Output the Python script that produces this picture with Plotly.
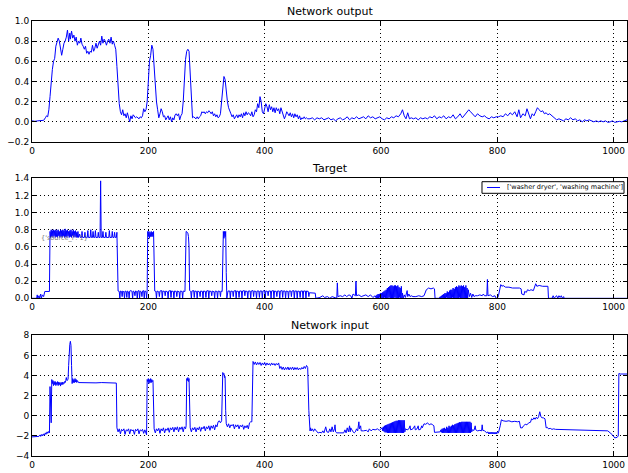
import plotly.graph_objects as go

# ---------------- data ----------------
output_points = [
    (0, 0.01), (5, 0.005), (10, 0.01), (15, 0.01), (20, 0.015), (23, 0.04), (25, 0.06), (27, 0.05),
    (29, 0.12), (31, 0.25), (33, 0.4), (35, 0.52), (37, 0.6), (39, 0.63), (41, 0.75), (43, 0.8),
    (45, 0.83), (47, 0.8), (49, 0.72), (51, 0.66), (53, 0.72), (55, 0.78), (57, 0.8), (59, 0.84),
    (61, 0.91), (62, 0.85), (63, 0.8), (65, 0.88), (66, 0.82), (68, 0.9), (70, 0.83), (72, 0.86),
    (74, 0.8), (76, 0.84), (78, 0.76), (80, 0.8), (82, 0.78), (84, 0.83), (86, 0.77), (88, 0.75),
    (90, 0.72), (92, 0.75), (94, 0.68), (96, 0.7), (98, 0.67), (100, 0.7), (102, 0.69), (104, 0.76),
    (106, 0.7), (108, 0.73), (110, 0.78), (112, 0.73), (114, 0.76), (116, 0.8), (118, 0.76), (120, 0.85),
    (122, 0.78), (124, 0.82), (126, 0.8), (128, 0.76), (130, 0.8), (132, 0.82), (134, 0.78), (136, 0.84),
    (138, 0.77), (140, 0.8), (142, 0.76), (144, 0.72), (146, 0.55), (148, 0.32), (150, 0.18), (152, 0.1),
    (154, 0.07), (156, 0.12), (158, 0.06), (160, 0.08), (162, 0.04), (164, 0.09), (166, 0.05), (168, 0.0),
    (170, 0.06), (172, 0.03), (174, 0.07), (176, 0.05), (178, 0.04), (180, 0.05), (182, 0.04), (184, 0.03),
    (186, 0.05), (188, 0.04), (190, 0.06), (192, 0.13), (194, 0.1), (196, 0.12), (198, 0.2), (200, 0.45),
    (202, 0.6), (204, 0.66), (206, 0.76), (208, 0.72), (210, 0.5), (212, 0.3), (214, 0.2), (216, 0.12),
    (218, 0.04), (220, 0.08), (222, 0.13), (224, 0.1), (226, 0.05), (228, 0.06), (230, 0.02), (232, 0.04),
    (234, 0.06), (236, 0.02), (238, 0.05), (240, 0.0), (242, 0.04), (244, 0.02), (246, 0.07), (248, 0.08),
    (250, 0.06), (252, 0.08), (254, 0.02), (256, 0.06), (258, 0.08), (260, 0.2), (262, 0.45), (264, 0.62),
    (266, 0.7), (268, 0.72), (270, 0.7), (272, 0.45), (274, 0.15), (276, 0.04), (278, 0.05), (280, 0.04),
    (282, 0.03), (284, 0.05), (286, 0.03), (288, 0.05), (290, 0.06), (292, 0.1), (294, 0.09), (296, 0.1),
    (298, 0.08), (300, 0.1), (302, 0.09), (304, 0.11), (306, 0.1), (308, 0.08), (310, 0.1), (312, 0.06),
    (314, 0.08), (316, 0.05), (318, 0.07), (320, 0.04), (322, 0.05), (324, 0.08), (326, 0.2), (328, 0.35),
    (330, 0.45), (332, 0.42), (334, 0.3), (336, 0.2), (338, 0.14), (340, 0.1), (342, 0.08), (344, 0.05),
    (346, 0.07), (348, 0.03), (350, 0.05), (352, 0.07), (354, 0.04), (356, 0.07), (358, 0.05), (360, 0.08),
    (362, 0.04), (364, 0.09), (366, 0.06), (368, 0.1), (370, 0.07), (372, 0.09), (374, 0.08), (376, 0.06),
    (378, 0.1), (380, 0.05), (382, 0.07), (384, 0.12), (386, 0.1), (388, 0.18), (390, 0.14), (392, 0.25),
    (394, 0.2), (396, 0.1), (398, 0.08), (400, 0.12), (402, 0.18), (404, 0.15), (406, 0.1), (408, 0.17),
    (410, 0.12), (412, 0.15), (414, 0.1), (416, 0.14), (418, 0.09), (420, 0.14), (422, 0.11), (424, 0.13),
    (426, 0.08), (428, 0.14), (430, 0.1), (432, 0.06), (434, 0.03), (436, 0.06), (438, 0.1), (440, 0.08),
    (442, 0.06), (444, 0.09), (446, 0.05), (448, 0.08), (450, 0.04), (452, 0.08), (454, 0.05), (456, 0.07),
    (458, 0.03), (460, 0.06), (462, 0.02), (464, 0.04), (466, 0.03), (468, 0.05), (470, 0.03), (472, 0.04),
    (474, 0.03), (478, 0.03), (482, 0.04), (486, 0.02), (490, 0.04), (494, 0.03), (498, 0.04), (502, 0.02),
    (506, 0.03), (510, 0.04), (514, 0.02), (518, 0.03), (522, 0.01), (526, 0.03), (530, 0.04), (534, 0.02),
    (538, 0.03), (542, 0.05), (546, 0.02), (550, 0.04), (554, 0.03), (558, 0.05), (562, 0.03), (566, 0.04),
    (570, 0.05), (574, 0.03), (578, 0.06), (582, 0.04), (586, 0.05), (590, 0.03), (594, 0.04), (598, 0.05),
    (602, 0.03), (606, 0.02), (610, 0.04), (614, 0.03), (618, 0.05), (622, 0.04), (626, 0.06), (630, 0.05),
    (634, 0.08), (637, 0.12), (640, 0.06), (643, 0.03), (646, 0.09), (649, 0.03), (652, 0.04), (656, 0.03),
    (660, 0.04), (664, 0.02), (668, 0.04), (672, 0.03), (676, 0.04), (680, 0.03), (684, 0.05), (688, 0.04),
    (692, 0.06), (696, 0.03), (700, 0.05), (704, 0.04), (708, 0.06), (712, 0.03), (716, 0.05), (720, 0.04),
    (724, 0.07), (728, 0.03), (732, 0.05), (736, 0.08), (740, 0.04), (744, 0.07), (748, 0.1), (751, 0.12),
    (754, 0.1), (758, 0.07), (762, 0.05), (766, 0.08), (770, 0.06), (774, 0.05), (778, 0.06), (782, 0.04),
    (786, 0.03), (790, 0.05), (794, 0.04), (798, 0.05), (802, 0.05), (806, 0.06), (810, 0.05), (814, 0.08),
    (818, 0.06), (822, 0.09), (826, 0.07), (830, 0.1), (834, 0.05), (837, 0.12), (840, 0.04), (844, 0.08),
    (848, 0.06), (851, 0.13), (854, 0.08), (857, 0.03), (860, 0.08), (863, 0.06), (866, 0.1), (869, 0.14),
    (872, 0.12), (875, 0.1), (878, 0.11), (881, 0.08), (884, 0.09), (887, 0.07), (890, 0.08), (894, 0.06),
    (898, 0.04), (902, 0.02), (906, 0.03), (910, 0.02), (914, 0.01), (918, 0.03), (922, 0.02), (926, 0.04),
    (930, 0.02), (934, 0.03), (938, 0.01), (942, 0.02), (946, 0.0), (950, 0.02), (954, 0.01), (958, 0.02),
    (962, 0.01), (966, 0.0), (970, 0.01), (974, 0.0), (978, 0.01), (982, 0.0), (986, 0.01), (990, -0.005),
    (994, 0.0), (998, 0.01), (1002, -0.005), (1006, 0.0), (1010, 0.005), (1014, 0.0), (1018, 0.01), (1023, 0.02),
]

target_points = [
    (0, 0.0), (8, 0.0), (9, 0.04), (10, 0.0), (12, 0.03), (13, 0.0), (15, 0.05), (16, 0.0), (18, 0.04),
    (20, 0.02), (22, 0.08), (30, 0.08), (31, 0.78), (32, 0.71), (33, 0.8), (34, 0.72), (35, 0.79), (36, 0.71),
    (37, 0.8), (38, 0.73), (39, 0.79), (40, 0.71), (41, 0.8), (42, 0.72), (43, 0.79), (44, 0.71), (45, 0.8),
    (46, 0.73), (47, 0.78), (48, 0.71), (49, 0.8), (50, 0.72), (51, 0.79), (52, 0.71), (53, 0.8), (54, 0.73),
    (55, 0.79), (56, 0.71), (57, 0.81), (58, 0.72), (59, 0.79), (60, 0.71), (61, 0.8), (62, 0.73), (63, 0.78),
    (64, 0.71), (65, 0.79), (66, 0.72), (67, 0.8), (68, 0.71), (69, 0.78), (70, 0.73), (71, 0.8), (72, 0.71),
    (73, 0.78), (74, 0.72), (75, 0.79), (76, 0.71), (77, 0.77), (78, 0.71), (79, 0.78), (80, 0.71), (82, 0.75),
    (83, 0.71), (85, 0.71), (86, 0.78), (87, 0.71), (90, 0.71), (91, 0.77), (92, 0.71), (95, 0.71), (96, 0.79),
    (97, 0.71), (100, 0.71), (101, 0.8), (102, 0.71), (104, 0.71), (105, 0.78), (106, 0.71), (108, 0.71),
    (109, 0.79), (110, 0.71), (113, 0.71), (114, 0.77), (115, 0.71), (117, 0.71), (118, 1.37), (119, 0.71),
    (121, 0.71), (122, 0.78), (123, 0.71), (126, 0.71), (127, 0.77), (128, 0.71), (132, 0.71), (133, 0.79),
    (134, 0.71), (137, 0.71), (138, 0.78), (139, 0.71), (141, 0.71), (142, 0.77), (143, 0.71), (145, 0.71),
    (146, 0.77), (147, 0.4), (148, 0.085), (150, 0.08), (151, 0.0), (152, 0.085), (154, 0.08), (155, 0.02),
    (156, 0.085), (158, 0.075), (159, 0.0), (160, 0.085), (162, 0.08), (163, 0.01), (164, 0.085), (166, 0.075),
    (167, 0.0), (168, 0.085), (170, 0.09), (172, 0.08), (173, 0.0), (174, 0.085), (176, 0.075), (177, 0.03),
    (178, 0.085), (180, 0.08), (181, 0.0), (182, 0.085), (184, 0.09), (185, 0.0), (186, 0.085), (188, 0.075),
    (189, 0.02), (190, 0.085), (192, 0.09), (193, 0.0), (194, 0.085), (196, 0.08), (197, 0.0), (198, 0.09),
    (199, 0.78), (200, 0.72), (201, 0.78), (202, 0.7), (203, 0.77), (204, 0.72), (205, 0.78), (206, 0.72),
    (207, 0.77), (208, 0.72), (209, 0.78), (210, 0.4), (211, 0.085), (213, 0.08), (214, 0.0), (215, 0.085),
    (218, 0.075), (219, 0.02), (220, 0.085), (223, 0.09), (224, 0.0), (225, 0.085), (228, 0.08), (229, 0.03),
    (230, 0.085), (233, 0.075), (234, 0.0), (235, 0.085), (238, 0.09), (239, 0.01), (240, 0.085), (243, 0.08),
    (244, 0.0), (245, 0.085), (248, 0.08), (249, 0.02), (250, 0.085), (253, 0.075), (254, 0.0), (255, 0.085),
    (258, 0.08), (259, 0.0), (260, 0.085), (263, 0.08), (264, 0.3), (265, 0.78), (267, 0.77), (268, 0.76),
    (269, 0.72), (270, 0.6), (271, 0.09), (273, 0.08), (274, 0.0), (275, 0.085), (278, 0.09), (279, 0.01),
    (280, 0.085), (283, 0.08), (284, 0.0), (285, 0.085), (288, 0.075), (289, 0.02), (290, 0.085), (293, 0.08),
    (294, 0.0), (295, 0.085), (298, 0.08), (299, 0.01), (300, 0.085), (303, 0.09), (304, 0.0), (305, 0.085),
    (308, 0.08), (309, 0.03), (310, 0.085), (313, 0.075), (314, 0.0), (315, 0.085), (318, 0.08), (319, 0.0),
    (320, 0.085), (323, 0.08), (324, 0.02), (325, 0.085), (327, 0.08), (328, 0.72), (329, 0.78), (330, 0.7),
    (331, 0.78), (332, 0.72), (333, 0.78), (334, 0.3), (335, 0.0), (337, 0.085), (340, 0.085), (341, 0.0),
    (342, 0.085), (345, 0.08), (346, 0.02), (347, 0.085), (350, 0.09), (351, 0.0), (352, 0.085), (355, 0.08),
    (356, 0.01), (357, 0.085), (360, 0.085), (361, 0.0), (362, 0.085), (365, 0.09), (366, 0.03), (367, 0.085),
    (370, 0.08), (371, 0.0), (372, 0.085), (375, 0.085), (376, 0.0), (377, 0.085), (380, 0.09), (381, 0.02),
    (382, 0.085), (385, 0.08), (386, 0.0), (387, 0.085), (390, 0.085), (391, 0.01), (392, 0.085), (395, 0.085),
    (396, 0.0), (397, 0.085), (400, 0.09), (401, 0.0), (402, 0.085), (405, 0.08), (406, 0.03), (407, 0.085),
    (410, 0.085), (411, 0.0), (412, 0.085), (415, 0.09), (416, 0.0), (417, 0.085), (420, 0.08), (421, 0.02),
    (422, 0.085), (425, 0.085), (426, 0.0), (427, 0.085), (430, 0.09), (431, 0.01), (432, 0.085), (435, 0.085),
    (436, 0.0), (437, 0.085), (440, 0.08), (441, 0.0), (442, 0.085), (445, 0.085), (446, 0.02), (447, 0.085),
    (450, 0.09), (451, 0.0), (452, 0.085), (455, 0.085), (456, 0.0), (457, 0.085), (460, 0.08), (461, 0.01),
    (462, 0.085), (465, 0.085), (466, 0.0), (467, 0.085), (470, 0.085), (471, 0.0), (472, 0.085), (475, 0.08),
    (476, 0.02), (477, 0.065), (485, 0.065), (487, 0.06), (488, 0.0), (495, 0.01), (500, 0.03), (503, 0.01),
    (508, 0.02), (512, 0.0), (516, 0.02), (520, 0.01), (524, 0.0), (525, 0.18), (526, 0.02), (530, 0.03),
    (534, 0.02), (538, 0.04), (541, 0.02), (545, 0.04), (548, 0.03), (550, 0.0), (552, 0.05), (556, 0.03),
    (557, 0.2), (558, 0.03), (562, 0.04), (566, 0.02), (570, 0.03), (574, 0.04), (578, 0.02), (582, 0.04),
    (586, 0.01), (590, 0.03), (592, 0.0), (593, 0.04), (594, 0.0), (595, 0.05), (596, 0.0), (597, 0.05),
    (598, 0.01), (599, 0.06), (600, 0.0), (601, 0.06), (602, 0.0), (603, 0.07), (604, 0.0), (605, 0.08),
    (606, 0.01), (607, 0.09), (608, 0.0), (609, 0.1), (610, 0.0), (611, 0.12), (612, 0.0), (613, 0.13),
    (614, 0.01), (615, 0.14), (616, 0.0), (617, 0.15), (618, 0.0), (619, 0.15), (620, 0.0), (621, 0.14),
    (622, 0.0), (623, 0.15), (624, 0.01), (625, 0.15), (626, 0.0), (627, 0.14), (628, 0.0), (629, 0.15),
    (630, 0.0), (631, 0.13), (632, 0.01), (633, 0.12), (634, 0.0), (635, 0.14), (636, 0.0), (637, 0.06),
    (638, 0.0), (640, 0.04), (642, 0.01), (645, 0.09), (646, 0.02), (648, 0.05), (650, 0.02), (652, 0.03),
    (655, 0.02), (660, 0.02), (665, 0.03), (670, 0.02), (674, 0.03), (676, 0.08), (678, 0.1), (682, 0.12),
    (686, 0.11), (690, 0.12), (692, 0.11), (693, 0.0), (700, 0.0), (702, 0.02), (703, 0.0), (704, 0.03),
    (705, 0.0), (706, 0.04), (707, 0.0), (708, 0.05), (709, 0.0), (710, 0.06), (711, 0.0), (712, 0.06),
    (713, 0.01), (714, 0.08), (715, 0.0), (716, 0.07), (717, 0.0), (718, 0.09), (719, 0.0), (720, 0.1),
    (721, 0.0), (722, 0.1), (723, 0.01), (724, 0.12), (725, 0.0), (726, 0.11), (727, 0.0), (728, 0.13),
    (729, 0.0), (730, 0.14), (731, 0.0), (732, 0.13), (733, 0.0), (734, 0.15), (735, 0.01), (736, 0.14),
    (737, 0.0), (738, 0.15), (739, 0.0), (740, 0.14), (741, 0.0), (742, 0.15), (743, 0.0), (744, 0.13),
    (745, 0.0), (746, 0.15), (747, 0.0), (748, 0.12), (749, 0.0), (750, 0.1), (752, 0.02), (754, 0.06),
    (756, 0.01), (758, 0.05), (760, 0.02), (762, 0.03), (766, 0.03), (770, 0.04), (774, 0.03), (776, 0.05),
    (778, 0.03), (782, 0.03), (783, 0.22), (784, 0.03), (788, 0.04), (792, 0.02), (796, 0.03), (798, 0.0),
    (800, 0.0), (802, 0.03), (804, 0.08), (806, 0.16), (808, 0.14), (810, 0.15), (814, 0.13), (820, 0.13),
    (826, 0.12), (832, 0.12), (838, 0.12), (841, 0.11), (842, 0.05), (846, 0.04), (847, 0.08), (850, 0.07),
    (852, 0.1), (855, 0.09), (858, 0.1), (862, 0.09), (864, 0.13), (866, 0.17), (868, 0.14), (872, 0.15),
    (878, 0.14), (884, 0.14), (887, 0.14), (888, 0.0), (894, 0.0), (896, 0.03), (898, 0.0), (900, 0.02),
    (902, 0.03), (904, 0.0), (906, 0.03), (908, 0.01), (910, 0.03), (912, 0.0), (914, 0.02), (915, 0.0),
    (1023, 0.0),
]

input_points = [
    (0, -2.1), (10, -2.1), (12, -2.05), (14, -1.9), (15, -2.05), (17, -1.85), (18, -2.0), (20, -1.8),
    (21, -1.95), (23, -1.7), (24, -1.85), (26, -1.6), (27, -1.75), (29, -1.55), (30, -1.7), (31, 2.9),
    (32, -0.5), (33, -0.7), (34, 3.6), (35, 3.2), (36, 3.5), (37, 3.0), (38, 3.4), (39, 3.1), (40, 3.4),
    (41, 3.0), (42, 3.3), (43, 3.1), (44, 3.4), (45, 3.0), (46, 3.35), (47, 3.1), (48, 3.3), (49, 2.95),
    (50, 3.3), (51, 3.1), (52, 3.35), (53, 3.1), (54, 3.3), (55, 3.2), (56, 3.4), (57, 3.3), (58, 3.5),
    (59, 3.8), (60, 3.5), (62, 3.6), (63, 5.0), (64, 6.8), (65, 7.1), (66, 7.4), (67, 7.0), (68, 5.0),
    (69, 3.2), (70, 3.7), (71, 3.3), (72, 3.6), (73, 3.3), (74, 3.7), (75, 3.35), (76, 3.6), (77, 3.3),
    (78, 3.5), (80, 3.3), (90, 3.28), (100, 3.3), (110, 3.27), (120, 3.3), (130, 3.28), (140, 3.27),
    (145, 3.25), (146, -1.2), (148, -1.6), (150, -1.3), (152, -1.8), (154, -1.35), (156, -1.5), (158, -1.3),
    (160, -1.85), (162, -1.4), (164, -1.5), (166, -1.3), (168, -1.8), (170, -1.35), (172, -1.5), (174, -1.4),
    (176, -1.85), (178, -1.35), (180, -1.5), (182, -1.3), (184, -1.8), (186, -1.4), (188, -1.5), (190, -1.35),
    (192, -1.75), (194, -1.4), (196, -1.7), (197, -1.9), (198, 3.6), (199, 3.4), (200, 3.7), (201, 3.2),
    (202, 3.6), (203, 3.3), (204, 3.7), (205, 3.3), (206, 3.6), (207, 3.4), (208, 3.5), (209, 0.0),
    (210, -1.3), (212, -1.7), (214, -1.3), (216, -1.5), (218, -1.25), (220, -1.75), (222, -1.3), (224, -1.5),
    (226, -1.2), (228, -1.7), (230, -1.3), (232, -1.45), (234, -1.2), (236, -1.65), (238, -1.2), (240, -1.4),
    (242, -1.15), (244, -1.6), (246, -1.15), (248, -1.4), (250, -1.1), (252, -1.6), (254, -1.15), (256, -1.35),
    (258, -1.1), (260, -1.6), (262, -1.1), (264, -1.3), (265, -1.0), (266, 3.7), (267, 3.5), (268, 3.8),
    (269, 3.4), (270, 3.7), (271, 1.0), (272, -1.2), (274, -1.6), (276, -1.2), (278, -1.4), (280, -1.15),
    (282, -1.6), (284, -1.2), (286, -1.4), (288, -1.1), (290, -1.55), (292, -1.15), (294, -1.3), (296, -1.05),
    (298, -1.5), (300, -1.1), (302, -1.3), (304, -1.0), (306, -1.45), (308, -1.0), (310, -1.25), (312, -0.95),
    (314, -1.4), (316, -0.9), (318, -1.1), (320, -0.6), (322, -0.5), (324, -0.7), (326, -0.5), (327, 3.0),
    (328, 4.3), (329, 4.1), (330, 4.2), (331, 3.8), (332, 3.9), (333, 0.5), (334, -0.8), (336, -1.1),
    (338, -0.8), (340, -1.2), (342, -0.9), (344, -1.0), (346, -0.85), (348, -1.3), (350, -0.9), (352, -1.1),
    (354, -0.9), (356, -1.3), (358, -0.95), (360, -1.1), (362, -0.9), (364, -1.35), (366, -1.0), (368, -1.2),
    (370, -0.95), (372, -1.3), (374, -0.7), (376, -0.6), (378, -0.6), (380, 5.4), (382, 5.1), (384, 5.35),
    (386, 5.05), (388, 5.3), (390, 5.1), (392, 5.3), (394, 5.0), (396, 5.25), (398, 5.05), (400, 5.3),
    (402, 5.0), (404, 5.25), (406, 5.05), (408, 5.2), (410, 5.0), (412, 5.25), (414, 5.05), (416, 5.2),
    (418, 5.0), (420, 5.2), (422, 5.05), (424, 5.25), (426, 4.7), (428, 4.9), (430, 4.6), (432, 4.85),
    (434, 4.55), (436, 4.8), (438, 4.6), (440, 4.85), (442, 4.55), (444, 4.8), (446, 4.6), (448, 4.85),
    (450, 4.55), (452, 4.8), (454, 4.6), (456, 4.8), (458, 4.55), (460, 4.75), (462, 4.6), (464, 4.8),
    (466, 4.65), (468, 4.9), (470, 4.7), (472, 5.0), (474, 4.8), (476, 0.5), (477, -1.2), (478, -1.5),
    (479, -1.2), (480, -1.5), (482, -1.3), (484, -1.55), (486, -1.3), (488, -1.5), (490, -1.6), (492, -1.7),
    (495, -1.65), (498, -1.7), (500, -1.5), (502, -1.7), (505, -1.1), (507, -1.6), (510, -1.65), (512, -1.3),
    (514, -1.6), (516, -1.1), (518, -1.6), (520, -1.3), (521, -0.9), (522, -1.6), (524, -1.7), (528, -1.7),
    (532, -1.7), (536, -1.7), (538, -1.4), (540, -1.7), (542, -1.2), (544, -1.6), (546, -1.0), (547, -1.6),
    (548, -1.2), (550, -1.5), (552, -1.6), (554, -1.7), (556, -1.6), (558, -1.3), (560, -1.5), (562, -0.6),
    (563, -1.3), (565, -1.0), (566, -1.5), (570, -1.5), (575, -1.45), (578, -1.6), (580, -1.3), (583, -1.5),
    (586, -1.35), (590, -1.4), (594, -1.3), (597, -1.45), (600, -1.3), (602, -1.2), (603, -1.5), (604, -1.1),
    (605, -1.55), (606, -1.0), (607, -1.65), (608, -0.95), (609, -1.65), (610, -0.9), (611, -1.7), (612, -0.85),
    (613, -1.7), (614, -0.8), (615, -1.7), (616, -0.75), (617, -1.7), (618, -0.7), (619, -1.7), (620, -0.65),
    (621, -1.7), (622, -0.6), (623, -1.7), (624, -0.55), (625, -1.7), (626, -0.5), (627, -1.7), (628, -0.5),
    (629, -1.7), (630, -0.45), (631, -1.7), (632, -0.45), (633, -1.7), (634, -0.45), (635, -1.7), (636, -0.45),
    (637, -1.7), (638, -0.45), (639, -1.7), (640, -0.45), (641, -1.6), (642, -1.3), (645, -1.4), (648, -1.3),
    (650, -1.0), (651, -1.4), (655, -1.3), (658, -1.0), (659, -1.4), (662, -1.3), (664, -1.0), (665, -1.4),
    (668, -1.35), (670, -1.0), (671, -1.2), (674, -0.8), (677, -0.85), (680, -0.7), (683, -0.9), (686, -0.8),
    (689, -0.9), (691, -1.0), (692, -1.65), (697, -1.6), (702, -1.6), (703, -1.4), (704, -1.65), (705, -1.3),
    (706, -1.7), (707, -1.25), (708, -1.7), (709, -1.2), (710, -1.7), (711, -1.3), (712, -1.7), (713, -1.1),
    (714, -1.7), (715, -1.2), (716, -1.7), (717, -1.0), (718, -1.7), (719, -1.1), (720, -1.7), (721, -1.0),
    (722, -1.7), (723, -0.9), (724, -1.7), (725, -0.95), (726, -1.7), (727, -0.85), (728, -1.7), (729, -0.8),
    (730, -1.7), (731, -0.75), (732, -1.7), (733, -0.7), (734, -1.7), (735, -0.65), (736, -1.7), (737, -0.65),
    (738, -1.7), (739, -0.6), (740, -1.7), (741, -0.6), (742, -1.7), (743, -0.6), (744, -1.7), (745, -0.6),
    (746, -1.7), (747, -0.6), (748, -1.7), (749, -0.6), (750, -1.7), (751, -0.6), (752, -1.7), (753, -0.6),
    (754, -1.7), (755, -0.7), (756, -1.6), (757, -1.4), (760, -1.45), (762, -1.0), (763, -1.4), (766, -1.5),
    (770, -1.45), (773, -1.5), (774, -0.9), (775, -1.45), (778, -1.5), (782, -1.7), (784, -1.6), (785, -1.8),
    (786, -1.65), (787, -1.8), (788, -1.65), (789, -1.8), (790, -1.65), (791, -1.8), (792, -1.65), (793, -1.8),
    (794, -1.65), (795, -1.8), (796, -1.65), (797, -1.8), (798, -1.65), (799, -1.8), (800, -1.6), (802, -1.7),
    (805, -1.0), (807, -0.4), (810, -0.5), (815, -0.55), (820, -0.5), (825, -0.6), (830, -0.55), (835, -0.6),
    (838, -0.55), (840, -1.2), (843, -1.2), (845, -1.0), (848, -0.85), (851, -0.9), (854, -0.7), (857, -0.65),
    (859, -0.3), (861, -0.4), (863, -0.2), (865, -0.35), (867, -0.15), (869, -0.3), (871, -0.1), (873, 0.4),
    (875, -0.1), (877, -0.2), (879, -0.2), (882, -0.3), (884, -1.2), (886, -1.15), (888, -1.3), (891, -1.25),
    (894, -1.35), (897, -1.3), (900, -1.35), (920, -1.4), (940, -1.45), (960, -1.45), (980, -1.5), (990, -1.5),
    (994, -1.7), (998, -1.9), (1002, -2.2), (1006, -2.15), (1008, -2.0), (1009, 4.2), (1012, 4.15), (1023, 4.15),
]

x_ticks = [0, 200, 400, 600, 800, 1000]
titles = ["Network output", "Target", "Network input"]
legend_label = "['washer dryer', 'washing machine']"
note_text = "{'source_i': 1}"
note_pos = (12, 0.70)

# ---------------- figure ----------------
FONT = "DejaVu Sans"
BLUE = "#0000ff"

fig = go.Figure()
series = [(output_points, "x", "y", "output"),
          (target_points, "x2", "y2", legend_label),
          (input_points, "x3", "y3", "input")]
for pts, xa, ya, name in series:
    fig.add_trace(go.Scatter(
        x=[p[0] for p in pts], y=[p[1] for p in pts], mode="lines",
        line=dict(color=BLUE, width=1), xaxis=xa, yaxis=ya,
        name=name, showlegend=False, hoverinfo="skip"))

axis_style = dict(showline=True, linecolor="black", linewidth=1, mirror="ticks",
                  ticks="inside", ticklen=4, tickwidth=1, tickcolor="black",
                  showgrid=True, gridcolor="black", gridwidth=1, griddash="1px,3px",
                  zeroline=False, tickfont=dict(family=FONT, size=9, color="black"))

domains = [[0.7218, 1.0], [0.3625, 0.6384], [0.0, 0.2775]]
yranges = [[-0.2, 1.0], [0.0, 1.4], [-4, 8]]
ydticks = [0.2, 0.2, 2]
yformats = [".1f", ".1f", "d"]

layout = dict(width=628, height=473, paper_bgcolor="white", plot_bgcolor="white",
              margin=dict(l=32, r=1, t=21, b=17, autoexpand=False),
              font=dict(family=FONT, color="black"), showlegend=False)
annotations = []
for i in range(3):
    sfx = "" if i == 0 else str(i + 1)
    layout["xaxis" + sfx] = dict(axis_style, domain=[0, 1], range=[0, 1023],
                                 tickvals=x_ticks, anchor="y" + sfx)
    layout["yaxis" + sfx] = dict(axis_style, domain=domains[i], range=yranges[i],
                                 dtick=ydticks[i], tick0=0, tickformat=yformats[i],
                                 anchor="x" + sfx)
    annotations.append(dict(text=titles[i], xref="paper", yref="paper", x=0.5,
                            y=domains[i][1], yanchor="middle", yshift=9.5,
                            showarrow=False, font=dict(family=FONT, size=11, color="black")))
annotations.append(dict(text=note_text, xref="x2", yref="y2", x=note_pos[0], y=note_pos[1],
                        xanchor="left", yanchor="middle", showarrow=False,
                        font=dict(family=FONT, size=6.5, color="#777777")))

# legend box for the target panel (top-right corner)
lg_x0, lg_x1, lg_y0, lg_y1 = 0.7563, 0.9950, 0.6039, 0.6306
lg_mid = (lg_y0 + lg_y1) / 2
shapes = [
    dict(type="rect", xref="paper", yref="paper", x0=lg_x0, x1=lg_x1, y0=lg_y0, y1=lg_y1,
         line=dict(color="black", width=1), fillcolor="white", layer="above"),
    dict(type="line", xref="paper", yref="paper", x0=0.7647, x1=0.7866, y0=lg_mid, y1=lg_mid,
         line=dict(color=BLUE, width=1), layer="above"),
]
annotations.append(dict(text=legend_label, xref="paper", yref="paper", x=0.7950, y=lg_mid,
                        xanchor="left", yanchor="middle", showarrow=False,
                        font=dict(family=FONT, size=6.5, color="black")))
layout["annotations"] = annotations
layout["shapes"] = shapes
fig.update_layout(**layout)

fig.write_html("out.html", config={"displayModeBar": False},
               post_script="document.body.style.margin='0';")
